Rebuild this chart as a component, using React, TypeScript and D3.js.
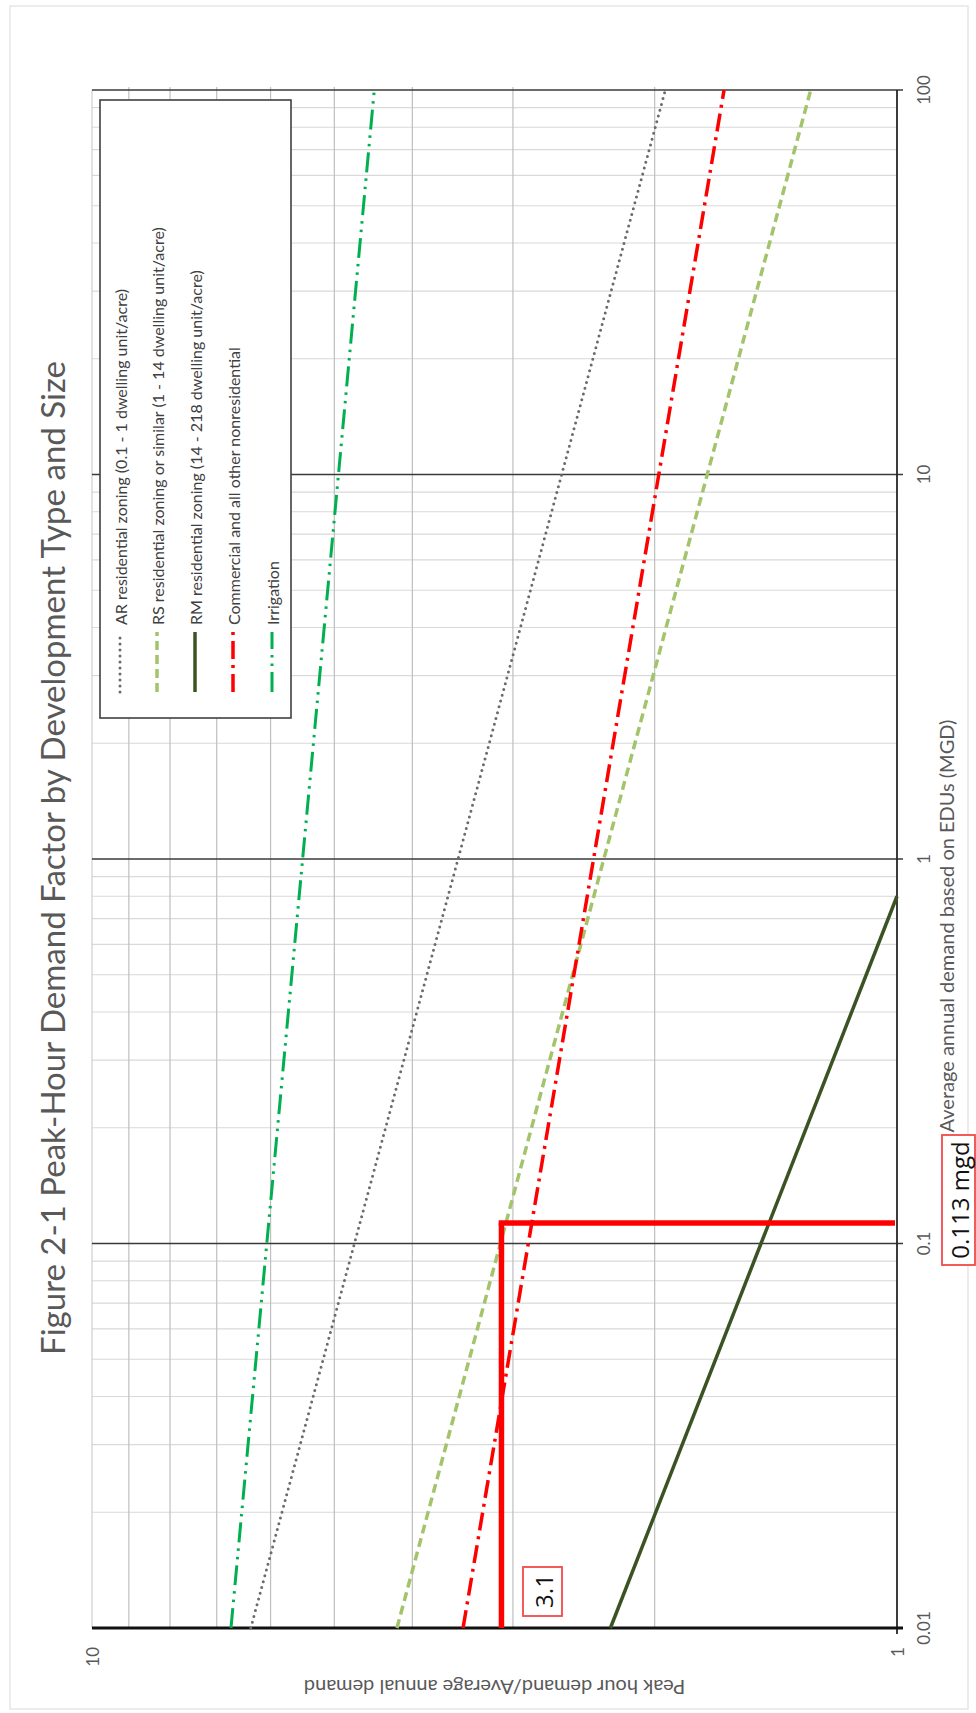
import React from 'react';
import * as d3 from 'd3';

interface Pt { x: number; y: number; }

// Series (straight lines in log-log, start and end points)
const arResidential: Pt[] = [{ x: 0.01, y: 6.35 }, { x: 100, y: 1.94 }];
const rsResidential: Pt[] = [{ x: 0.01, y: 4.18 }, { x: 100, y: 1.28 }];
const rmResidential: Pt[] = [{ x: 0.01, y: 2.27 }, { x: 0.8, y: 1.0 }];
const commercial: Pt[] = [{ x: 0.01, y: 3.46 }, { x: 100, y: 1.64 }];
const irrigation: Pt[] = [{ x: 0.01, y: 6.72 }, { x: 100, y: 4.46 }];

const seriesLabels = [
  'AR residential zoning (0.1 - 1 dwelling unit/acre)',
  'RS residential zoning or similar (1 - 14 dwelling unit/acre)',
  'RM residential zoning (14 - 218 dwelling unit/acre)',
  'Commercial and all other nonresidential',
  'Irrigation',
];

const xTickValues = [0.01, 0.1, 1, 10, 100];
const xTickLabels = ['0.01', '0.1', '1', '10', '100'];
const yTickValues = [1, 10];
const yTickLabels = ['1', '10'];

// marked reading
const markX = 0.113;
const markY = 3.1;
const markXLabel = '0.113 mgd';
const markYLabel = '3.1';

const W = 976;
const H = 1713;
const plot = { left: 92, right: 897, top: 90, bottom: 1628 };
const font = 'Lato, "Open Sans", sans-serif';

const App: React.FC = () => {
  // the figure is turned 90° counter-clockwise: x runs bottom -> top, y runs right -> left
  const x = d3.scaleLog().domain([0.01, 100]).range([plot.bottom, plot.top]);
  const y = d3.scaleLog().domain([1, 10]).range([plot.right, plot.left]);

  const line = d3.line<Pt>().x(d => y(d.y)).y(d => x(d.x));

  const styles = [
    { data: arResidential, color: '#6b6b6b', width: 3, dash: '0 6', cap: 'round' },
    { data: rsResidential, color: '#a4c46c', width: 3.5, dash: '9 5', cap: 'butt' },
    { data: rmResidential, color: '#3b5323', width: 3.5, dash: null, cap: 'butt' },
    { data: commercial, color: '#ff0000', width: 3.5, dash: '18 6 3 6', cap: 'butt' },
    { data: irrigation, color: '#00b050', width: 3, dash: '20 6 2.5 6 2.5 6', cap: 'butt' },
  ];

  const xMinor = x.ticks().filter(v => !xTickValues.some(t => Math.abs(t - v) < 1e-9));
  const yGrid = y.ticks().filter(v => v > 1 && v < 10);

  const legendX = [120, 157, 195, 233, 272];

  return (
    <svg width={W} height={H} style={{ position: 'absolute', left: 0, top: 0, background: '#fff' }}>
      <rect x={10} y={6} width={958} height={1703} fill="none" stroke="#e6e6e6" strokeWidth={1.5} />

      <text
        transform={`translate(52,858) rotate(-90)`}
        textAnchor="middle"
        dominantBaseline="central"
        fontFamily={font}
        fontSize={33}
        fill="#595959"
      >
        Figure 2-1 Peak-Hour Demand Factor by Development Type and Size
      </text>

      {/* minor gridlines */}
      {xMinor.map(v => (
        <line key={'xm' + v} x1={plot.left} x2={plot.right} y1={x(v)} y2={x(v)} stroke="#d9d9d9" strokeWidth={1.2} />
      ))}
      {yGrid.map(v => (
        <line key={'yg' + v} x1={y(v)} x2={y(v)} y1={plot.top - 3} y2={plot.bottom} stroke="#bfbfbf" strokeWidth={1.2} />
      ))}
      <line x1={plot.left} x2={plot.left} y1={plot.top} y2={plot.bottom} stroke="#cfcfcf" strokeWidth={1.2} />

      {/* decade lines */}
      {xTickValues.slice(1).map(v => (
        <line key={'xd' + v} x1={plot.left} x2={plot.right + 6} y1={x(v)} y2={x(v)} stroke="#3a3a3a" strokeWidth={1.6} />
      ))}

      {/* axes */}
      <line x1={plot.right} x2={plot.right} y1={plot.top} y2={plot.bottom + 6} stroke="#262626" strokeWidth={1.8} />
      <line x1={plot.left} x2={plot.right + 6} y1={plot.bottom} y2={plot.bottom} stroke="#111" strokeWidth={3} />

      {/* series */}
      {styles.map((s, i) => (
        <path
          key={'s' + i}
          d={line(s.data) ?? ''}
          fill="none"
          stroke={s.color}
          strokeWidth={s.width}
          strokeDasharray={s.dash ?? undefined}
          strokeLinecap={s.cap as any}
        />
      ))}

      {/* legend */}
      <rect x={100} y={100} width={191} height={618} fill="#fff" stroke="#404040" strokeWidth={1.6} />
      {styles.map((s, i) => (
        <g key={'lg' + i}>
          <line
            x1={legendX[i]}
            x2={legendX[i]}
            y1={692}
            y2={632}
            stroke={s.color}
            strokeWidth={s.width}
            strokeDasharray={s.dash ?? undefined}
            strokeLinecap={s.cap as any}
          />
          <text
            transform={`translate(${legendX[i]},625) rotate(-90)`}
            dominantBaseline="central"
            fontFamily={font}
            fontSize={16}
            fill="#404040"
          >
            {seriesLabels[i]}
          </text>
        </g>
      ))}

      {/* reading marks */}
      <line x1={y(markY)} x2={y(markY)} y1={plot.bottom} y2={x(markX)} stroke="#ff0000" strokeWidth={5.5} />
      <line x1={y(markY) - 2.75} x2={plot.right - 2} y1={x(markX)} y2={x(markX)} stroke="#ff0000" strokeWidth={5.5} />

      {/* tick labels */}
      {xTickValues.map((v, i) => (
        <text
          key={'xt' + v}
          transform={`translate(923,${x(v)}) rotate(-90)`}
          textAnchor="middle"
          dominantBaseline="central"
          fontFamily={font}
          fontSize={17}
          fill="#595959"
        >
          {xTickLabels[i]}
        </text>
      ))}
      {yTickValues.map((v, i) => (
        <text
          key={'yt' + v}
          transform={`translate(${y(v)},${plot.bottom + 19}) rotate(-90)`}
          textAnchor="end"
          dominantBaseline="central"
          fontFamily={font}
          fontSize={17}
          fill="#595959"
        >
          {yTickLabels[i]}
        </text>
      ))}

      {/* axis titles */}
      <text
        transform={`translate(946,926) rotate(-90)`}
        textAnchor="middle"
        dominantBaseline="central"
        fontFamily={font}
        fontSize={20}
        fill="#595959"
      >
        Average annual demand based on EDUs (MGD)
      </text>
      <text
        transform={`translate(${(plot.left + plot.right) / 2},1688) rotate(180)`}
        textAnchor="middle"
        dominantBaseline="central"
        fontFamily={font}
        fontSize={20}
        fill="#595959"
      >
        Peak hour demand/Average annual demand
      </text>

      {/* boxed values */}
      <rect x={523} y={1567} width={39} height={49} fill="#fff" stroke="#f04a4a" strokeWidth={1.8} />
      <text
        transform={`translate(543,1591) rotate(-90)`}
        textAnchor="middle"
        dominantBaseline="central"
        fontFamily='"Open Sans", sans-serif'
        fontSize={24}
        fill="#111"
      >
        {markYLabel}
      </text>
      <rect x={942} y={1135} width={33} height={130} fill="#fff" stroke="#f04a4a" strokeWidth={1.8} />
      <text
        transform={`translate(959,1200) rotate(-90)`}
        textAnchor="middle"
        dominantBaseline="central"
        fontFamily='"Open Sans", sans-serif'
        fontSize={24}
        fill="#111"
      >
        {markXLabel}
      </text>
    </svg>
  );
};

export default App;
